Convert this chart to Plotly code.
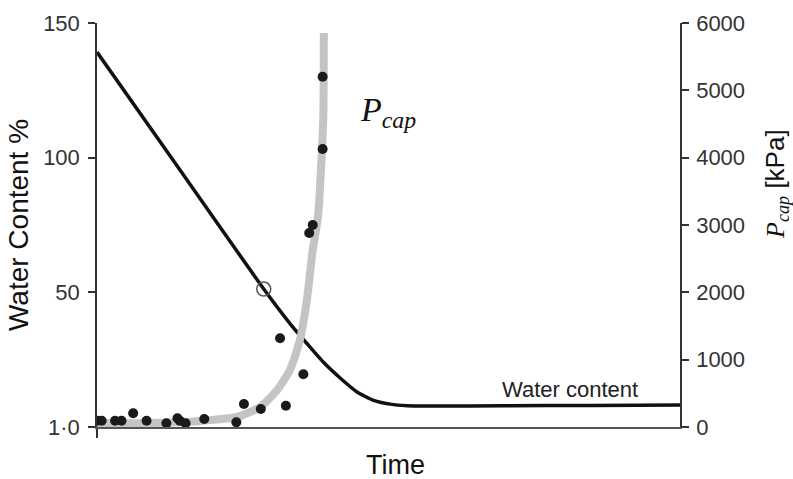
import plotly.graph_objects as go

# ---- data ----
# Water content curve (left axis, %)
wc_time = [0, 14.3, 28.6, 33.1, 36.0, 38.8, 41.7, 44.6, 47.3, 50.3, 53.2, 57.1, 70, 85, 100]
wc_value = [139.2, 95.2, 51.2, 38.4, 31.0, 24.1, 18.2, 13.0, 10.0, 8.5, 7.9, 7.8, 7.9, 8.0, 8.2]

# Open marker on water content line
circle_time = [28.6]
circle_value = [51.2]

# Measured capillary pressure points (right axis, kPa)
p_time = [0, 0.8, 3.1, 4.2, 6.2, 8.5, 11.9, 13.8, 14.2, 15.2, 18.4, 23.9, 25.2, 28.1,
          31.4, 32.4, 35.4, 36.4, 37.0, 38.7, 38.7]
p_value = [94, 94, 94, 94, 203, 94, 55, 129, 94, 55, 119, 70, 342, 267,
           1317, 316, 783, 2881, 3000, 4128, 5202]

# Capillary pressure trend (grey curve)
fit_time = [0, 9.1, 17.7, 24.0, 28.0, 30.9, 33.1, 34.8, 36.0, 37.0, 37.9, 38.8, 38.9]
fit_value = [59, 59, 89, 149, 297, 549, 846, 1292, 1886, 2628, 3119, 4559, 5851]

left_ticks = [0, 50, 100, 150]
left_ticktext = ["1·0", "50", "100", "150"]
right_ticks = [0, 1000, 2000, 3000, 4000, 5000, 6000]

SANS = "Liberation Sans, Arial, sans-serif"
SERIF = "Liberation Serif, Times New Roman, serif"

# plot-area geometry in pixels (for placing free text)
L, R, T, B = 97, 680, 23, 427
W, H = R - L, B - T

fig = go.Figure()

fig.add_trace(go.Scatter(x=fit_time, y=fit_value, yaxis="y2", mode="lines",
                         line=dict(color="#c4c4c4", width=8, shape="spline", smoothing=0.6),
                         showlegend=False, hoverinfo="skip"))
fig.add_trace(go.Scatter(x=p_time, y=p_value, yaxis="y2", mode="markers",
                         marker=dict(color="#1a1a1a", size=10),
                         showlegend=False))
fig.add_trace(go.Scatter(x=wc_time, y=wc_value, mode="lines",
                         line=dict(color="#111111", width=3.5, shape="spline", smoothing=0.5),
                         showlegend=False))
fig.add_trace(go.Scatter(x=circle_time, y=circle_value, mode="markers",
                         marker=dict(symbol="circle-open", size=14, color="#555555",
                                     line=dict(width=1.5, color="#555555")),
                         showlegend=False))

fig.update_layout(
    width=793, height=479,
    margin=dict(l=L, r=793 - R, t=T, b=479 - B),
    plot_bgcolor="white", paper_bgcolor="white",
    font=dict(family=SANS, color="#333333", size=22),
    xaxis=dict(range=[0, 100], showgrid=False, zeroline=False, automargin=False,
               showline=True, linecolor="#555555", linewidth=1.5,
               ticks="outside", tickvals=[0], ticklen=9, tickcolor="#333333",
               tickwidth=1.5, showticklabels=False),
    yaxis=dict(range=[0, 150], showgrid=False, zeroline=False, automargin=False,
               showline=True, linecolor="#333333", linewidth=1.5,
               ticks="outside", ticklen=7, tickwidth=1.5, tickcolor="#333333",
               tickvals=left_ticks, ticktext=left_ticktext,
               tickfont=dict(size=22, color="#333333"), ticklabelstandoff=4,
               title=dict(text="Water Content %", font=dict(size=28, color="#111111"), standoff=6)),
    yaxis2=dict(range=[0, 6000], overlaying="y", side="right", anchor="x",
                showgrid=False, zeroline=False, automargin=False,
                showline=True, linecolor="#333333", linewidth=1.5,
                ticks="outside", ticklen=7, tickwidth=1.5, tickcolor="#333333",
                tickvals=right_ticks,
                tickfont=dict(size=22, color="#333333"), ticklabelstandoff=3),
    annotations=[
        dict(text="<i>P</i><sub><i>cap</i></sub>", xref="paper", yref="paper",
             x=(358 - L) / W, y=(B - 112) / H, xanchor="left", yanchor="middle",
             showarrow=False, font=dict(family=SERIF, size=34, color="#111111")),
        dict(text="Water content", xref="paper", yref="paper",
             x=(570 - L) / W, y=(B - 389) / H, xanchor="center", yanchor="middle",
             showarrow=False, font=dict(family=SANS, size=22, color="#222222")),
        # x axis title
        dict(text="Time", xref="paper", yref="paper",
             x=(395 - L) / W, y=(B - 465) / H, xanchor="center", yanchor="middle",
             showarrow=False, font=dict(family=SANS, size=27, color="#111111")),
        # right axis title
        dict(text="<span style='font-family:Liberation Serif'><i>P</i><sub><i>cap</i></sub></span> [kPa]",
             xref="paper", yref="paper", textangle=-90,
             x=(776 - L) / W, y=(B - 184) / H, xanchor="center", yanchor="middle",
             showarrow=False, font=dict(family=SANS, size=26, color="#111111")),
    ],
)

fig.write_html("out.html")
